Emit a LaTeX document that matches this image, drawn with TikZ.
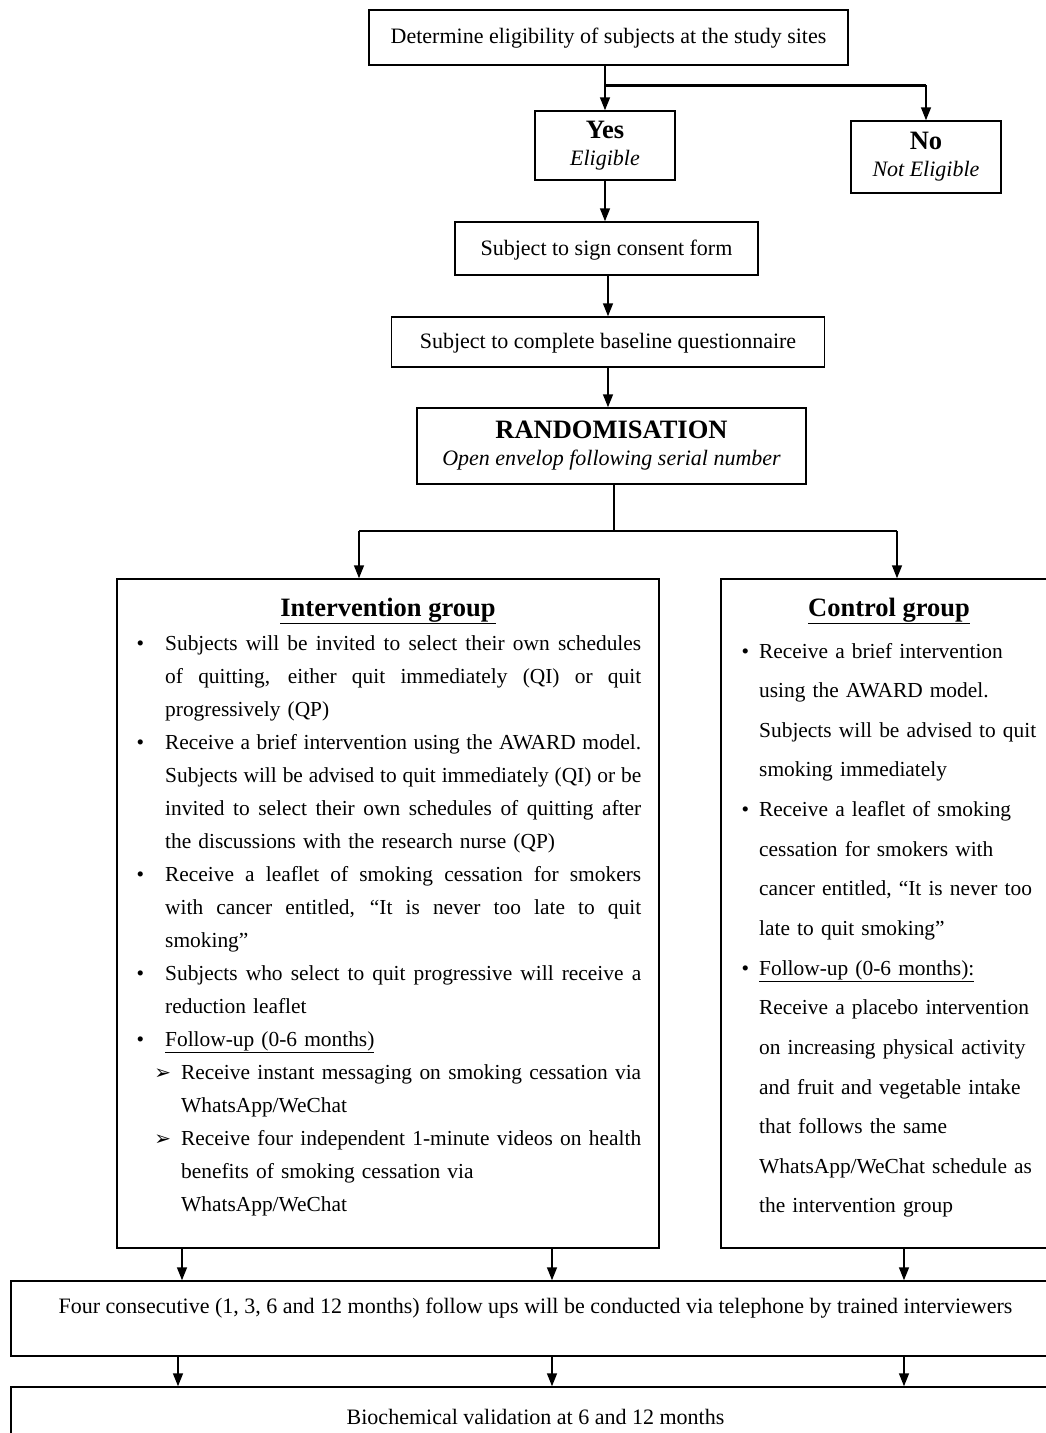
\documentclass[tikz,border=0pt]{standalone}
\usepackage{fontspec}
\setmainfont{Liberation Serif}
\newfontfamily\dejavu{DejaVu Sans}
\usetikzlibrary{arrows.meta}
\newcommand{\J}[1]{\makebox[476pt][s]{\spaceskip=0pt\xspaceskip=0pt\relax#1}}
\newcommand{\JJ}[1]{\makebox[460pt][s]{\spaceskip=0pt\xspaceskip=0pt\relax#1}}
\newcommand{\ib}{\leavevmode\llap{\textbullet\hspace{21pt}}}
\newcommand{\cb}{\leavevmode\llap{\textbullet\hspace{10pt}}}
\newcommand{\sbul}{\leavevmode\llap{{\dejavu\fontsize{20}{20}\selectfont ➢}\hspace{10pt}}}
\begin{document}
\begin{tikzpicture}[x=1pt,y=-1pt,
  box/.style={draw,line width=1.5pt,inner sep=0pt,font=\fontsize{22}{27}\selectfont,align=center},
  arr/.style={line width=1.5pt,-{Triangle[length=13pt,width=10pt]}},
  ln/.style={line width=1.5pt},
  body/.style={inner sep=0pt,anchor=base west,align=left},
  ttl/.style={inner sep=0pt,font=\fontsize{26.5}{30}\selectfont\bfseries}
]
\useasboundingbox (0,0) rectangle (1046,1433);
\node[box,minimum width=479pt,minimum height=55pt,text depth=3pt] (top) at (608.5,37.5) {Determine eligibility of subjects at the study sites};
\node[box,minimum width=140pt,minimum height=69pt] (yes) at (605,145.5) {{\fontsize{26.5}{27}\selectfont\bfseries Yes}\\{\itshape Eligible}};
\node[box,minimum width=150pt,minimum height=72pt] (no) at (926,157) {{\fontsize{26.5}{27}\selectfont\bfseries No}\\{\itshape Not Eligible}};
\node[box,minimum width=303pt,minimum height=53pt,text depth=2pt] (consent) at (606.5,248.5) {Subject to sign consent form};
\node[box,minimum width=433pt,minimum height=50pt,text depth=3pt] (base) at (608,342) {Subject to complete baseline questionnaire};
\node[box,minimum width=389pt,minimum height=76pt] (rand) at (611.5,446) {{\fontsize{26.5}{28}\selectfont\bfseries RANDOMISATION}\\{\itshape Open envelop following serial number}};
\node[box,minimum width=542pt,minimum height=669pt] (int) at (388,913.5) {};
\node[box,minimum width=339pt,minimum height=669pt] (ctrl) at (890.5,913.5) {};
\node[box,minimum width=1049pt,minimum height=75pt] (fu) at (535.5,1318.5) {};
\node[box,minimum width=1049pt,minimum height=63pt] (bio) at (535.5,1418.5) {};

\node[ttl] (intT) at (388,611) {\underline{Intervention group}};
\node[ttl] (ctrlT) at (889,611) {\underline{Control group}};

\node[body,text width=476pt,font=\fontsize{21.4}{33}\selectfont] (intB) at (165,650) {%
\J{\ib Subjects will be invited to select their own schedules}\\
\J{of quitting, either quit immediately (QI) or quit}\\
progressively (QP)\\
\J{\ib Receive a brief intervention using the AWARD model.}\\
\J{Subjects will be advised to quit immediately (QI) or be}\\
\J{invited to select their own schedules of quitting after}\\
the discussions with the research nurse (QP)\\
\J{\ib Receive a leaflet of smoking cessation for smokers}\\
\J{with cancer entitled, “It is never too late to quit}\\
smoking”\\
\J{\ib Subjects who select to quit progressive will receive a}\\
reduction leaflet\\
\ib\underline{Follow-up (0-6 months)}\\
\hspace*{16pt}\JJ{\sbul Receive instant messaging on smoking cessation via}\\
\hspace*{16pt}WhatsApp/WeChat\\
\hspace*{16pt}\JJ{\sbul Receive four independent 1-minute videos on health}\\
\hspace*{16pt}benefits of smoking cessation via\\
\hspace*{16pt}WhatsApp/WeChat};

\node[body,text width=320pt,font=\fontsize{21.4}{39.64}\selectfont] (ctrlB) at (759,658) {%
\cb Receive a brief intervention\\
using the AWARD model.\\
Subjects will be advised to quit\\
smoking immediately\\
\cb Receive a leaflet of smoking\\
cessation for smokers with\\
cancer entitled, “It is never too\\
late to quit smoking”\\
\cb\underline{Follow-up (0-6 months):}\\
Receive a placebo intervention\\
on increasing physical activity\\
and fruit and vegetable intake\\
that follows the same\\
WhatsApp/WeChat schedule as\\
the intervention group};

\node[inner sep=0pt,font=\fontsize{22}{26}\selectfont] (fuT) at (535.5,1308) {Four consecutive (1, 3, 6 and 12 months) follow ups will be conducted via telephone by trained interviewers};
\node[inner sep=0pt,font=\fontsize{22}{26}\selectfont] (bioT) at (535.5,1417) {Biochemical validation at 6 and 12 months};

% connectors
\draw[arr] (yes.north |- top.south) -- (yes.north);
\coordinate (br) at (606,85);
\draw[line width=3pt] (br) -- (br -| no.north);
\draw[arr] (br -| no.north) -- (no.north);
\draw[arr] (yes.south) -- (yes.south |- consent.north);
\draw[arr] (base.north |- consent.south) -- (base.north);
\draw[arr] (base.south) -- (base.south |- rand.north);
\coordinate (sp) at (614,531);
\coordinate (spL) at (359,531);
\coordinate (spR) at (897,531);
\draw[ln] (sp |- rand.south) -- (sp);
\draw[ln] (spL) -- (spR);
\draw[arr] (spL) -- (spL |- int.north);
\draw[arr] (spR) -- (spR |- ctrl.north);
\foreach \x in {182,552} \draw[arr] (\x,0 |- int.south) -- (\x,0 |- fu.north);
\draw[arr] (904,0 |- ctrl.south) -- (904,0 |- fu.north);
\foreach \x in {178,552,904} \draw[arr] (\x,0 |- fu.south) -- (\x,0 |- bio.north);
\end{tikzpicture}
\end{document}
